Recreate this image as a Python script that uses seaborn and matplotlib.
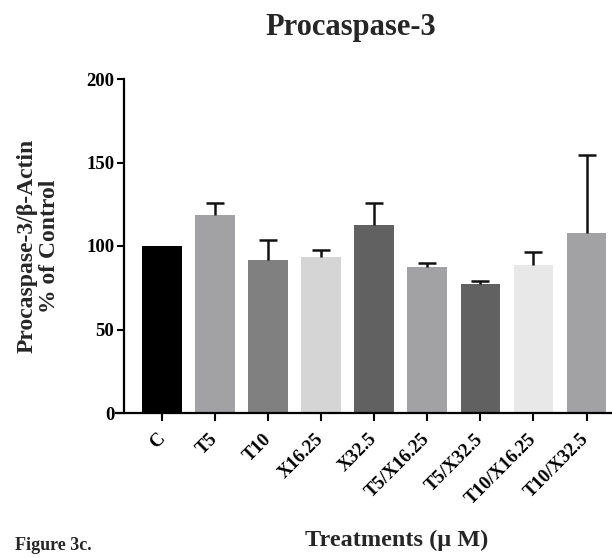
import matplotlib
matplotlib.use("Agg")
import matplotlib.pyplot as plt
import seaborn as sns
import pandas as pd

categories = ["C", "T5", "T10", "X16.25", "X32.5", "T5/X16.25", "T5/X32.5", "T10/X16.25", "T10/X32.5"]
means = [100, 118.5, 91.5, 93.5, 112.5, 87.5, 77.5, 88.5, 107.5]
sem_upper = [0, 7.3, 12.3, 3.9, 13.3, 2.5, 1.3, 8.1, 47.2]
colors = ["#000000", "#a2a1a6", "#808080", "#d5d5d5", "#616161", "#a2a1a6", "#616161", "#e8e8e8", "#a2a1a6"]
yticks = [0, 50, 100, 150, 200]

sns.set_theme(style="ticks")
plt.rcParams["font.family"] = ["Liberation Serif", "DejaVu Serif"]
plt.rcParams["font.weight"] = "bold"
plt.rcParams["axes.labelweight"] = "bold"

df = pd.DataFrame({"Treatment": categories, "Value": means})

W, H = 612, 558
fig = plt.figure(figsize=(W / 100, H / 100), dpi=100)
ax = fig.add_axes([116 / W, 1 - 413 / H, (612 - 116) / W, (413 - 79) / H])

sns.barplot(data=df, x="Treatment", y="Value", hue="Treatment", palette=colors,
            order=categories, hue_order=categories, width=0.75, legend=False,
            errorbar=None, linewidth=0, ax=ax)

xs = list(range(len(categories)))
ex = [x for x, s in zip(xs, sem_upper) if s > 0]
ey = [m for m, s in zip(means, sem_upper) if s > 0]
es = [s for s in sem_upper if s > 0]
eb = ax.errorbar(ex, ey, yerr=[[0] * len(es), es], fmt="none",
                 ecolor="#111111", elinewidth=1.8, capsize=6.5, capthick=1.8, zorder=1)
# keep only the upper caps (GraphPad-style one-sided error bars)
caps = eb[1]
if len(caps) == 2:
    caps[0].set_visible(False)

ax.set_xlim(-0.87, 8.48)
ax.set_ylim(0, 200)
ax.set_yticks(yticks)
ax.set_yticklabels([str(t) for t in yticks])
ax.spines["left"].set_position(("data", -0.72))
ax.spines["right"].set_visible(False)
ax.spines["top"].set_visible(False)
for s in ["left", "bottom"]:
    ax.spines[s].set_linewidth(1.6)
    ax.spines[s].set_color("black")
ax.tick_params(axis="both", which="major", width=1.5, color="black",
               labelsize=13.5, labelcolor="black")
ax.tick_params(axis="y", length=5, pad=2)
ax.set_xticks(xs)
ax.set_xticklabels(categories, rotation=45, ha="right", va="center",
                   rotation_mode="anchor", fontsize=13.5, fontweight="bold")
ax.tick_params(axis="x", length=6, pad=11)
for lab in ax.get_yticklabels():
    lab.set_fontweight("bold")

ax.set_ylabel("Procaspase-3/\u03b2-Actin\n% of Control", fontsize=17, fontweight="bold",
              linespacing=1.1, va="center")
ax.yaxis.set_label_coords(-0.156, 0.5)
ax.set_xlabel("Treatments (\u03bc M)", fontsize=17.5, fontweight="bold", va="center")
ax.xaxis.set_label_coords(0.5665, -0.38)

fig.text(351 / W, 1 - 35 / H, "Procaspase-3", ha="center", va="baseline",
         fontsize=22, fontweight="bold")
fig.text(15 / W, 1 - 545 / H, "Figure 3c.", ha="left", va="center",
         fontsize=13, fontweight="bold")

fig.savefig("out.png", dpi=100)
